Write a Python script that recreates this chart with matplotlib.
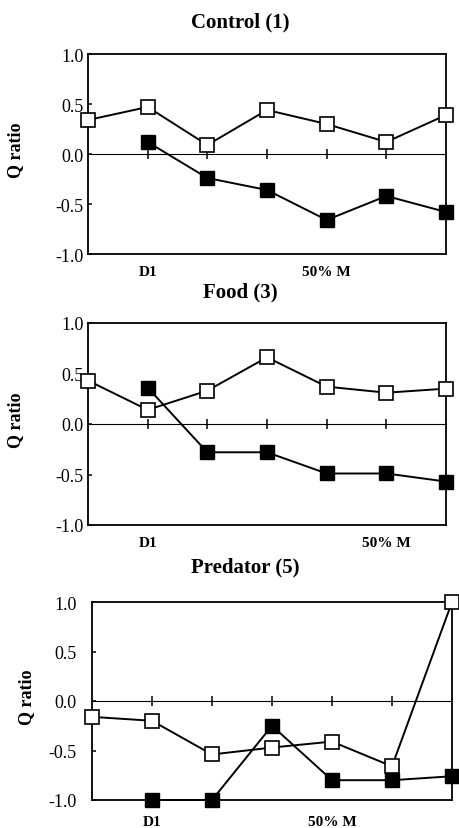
import numpy as np
import matplotlib
matplotlib.use("Agg")
import matplotlib.pyplot as plt
from matplotlib.transforms import Bbox

plt.rcParams['font.family'] = ['Liberation Serif', 'DejaVu Serif']

# ---- data ----
stages = [0, 1, 2, 3, 4, 5, 6]
nan = np.nan
control_open = [0.34, 0.47, 0.09, 0.44, 0.30, 0.12, 0.39]
control_filled = [nan, 0.12, -0.24, -0.36, -0.66, -0.42, -0.58]
food_open = [0.43, 0.14, 0.33, 0.66, 0.37, 0.31, 0.35]
food_filled = [nan, 0.36, -0.28, -0.28, -0.49, -0.49, -0.57]
pred_open = [-0.16, -0.20, -0.54, -0.47, -0.41, -0.66, 1.0]
pred_filled = [nan, -1.0, -1.0, -0.25, -0.80, -0.80, -0.76]

titles = ["Control (1)", "Food (3)", "Predator (5)"]
xlabel_pos = [[1, 4], [1, 5], [1, 4]]
xlabel_text = ["D1", "50% M"]
yticks = [-1.0, -0.5, 0.0, 0.5, 1.0]
ytick_labels = ["-1.0", "-0.5", "0.0", "0.5", "1.0"]

W, H = 459, 829
fig = plt.figure(figsize=(W / 100, H / 100), dpi=100)

def rect(l, t, r, b):
    return [l / W, 1 - b / H, (r - l) / W, (b - t) / H]

axes_rects = [rect(88, 55, 446, 255), rect(88, 324, 446, 526), rect(92, 603, 452, 801)]
title_pos = [(240, 22), (240, 292), (245, 567)]
ylabel_pos = [(16, 150), (16, 420), (27, 697)]
ypads = [3, 3, 11]
xpads = [8, 8, 11]
label_clip = [279, 548, None]

series = [(control_open, control_filled), (food_open, food_filled), (pred_open, pred_filled)]

for i in range(3):
    ax = fig.add_axes(axes_rects[i])
    op, fi = series[i]
    ax.set_xlim(0, 6)
    ax.set_ylim(-1, 1)
    ax.plot(stages, fi, '-s', color='black', lw=1.4, ms=9.5, mfc='black',
            mec='black', mew=1.0, clip_on=False, zorder=3)
    ax.plot(stages, op, '-s', color='black', lw=1.4, ms=9.5, mfc='white',
            mec='black', mew=1.2, clip_on=False, zorder=4)
    ax.set_yticks(yticks)
    ax.set_yticklabels(ytick_labels, fontsize=13)
    ax.tick_params(axis='y', direction='in', length=3, width=1.1, pad=ypads[i])
    ax.set_xticks(xlabel_pos[i])
    ax.set_xticklabels(xlabel_text, fontsize=11, fontweight='bold')
    ax.tick_params(axis='x', length=0, pad=xpads[i])
    for s in ax.spines.values():
        s.set_linewidth(1.3)
    sec = ax.secondary_xaxis(0.5)
    sec.set_xticks([1, 2, 3, 4, 5])
    sec.set_xticklabels([''] * 5)
    sec.tick_params(direction='inout', length=7, width=1.1,
                    labelbottom=False, labeltop=False)
    sec.spines['bottom'].set_linewidth(1.3)
    if label_clip[i] is not None:
        cb = Bbox([[0, H - label_clip[i]], [W, H]])
        for t in ax.get_xticklabels():
            t.set_clip_box(cb)
            t.set_clip_on(True)
    tx, ty = title_pos[i]
    fig.text(tx / W, 1 - ty / H, titles[i], ha='center', va='center',
             fontsize=15, fontweight='bold')
    lx, ly = ylabel_pos[i]
    fig.text(lx / W, 1 - ly / H, "Q ratio", ha='center', va='center',
             rotation=90, fontsize=13, fontweight='bold')

fig.savefig("out.png", dpi=100)
